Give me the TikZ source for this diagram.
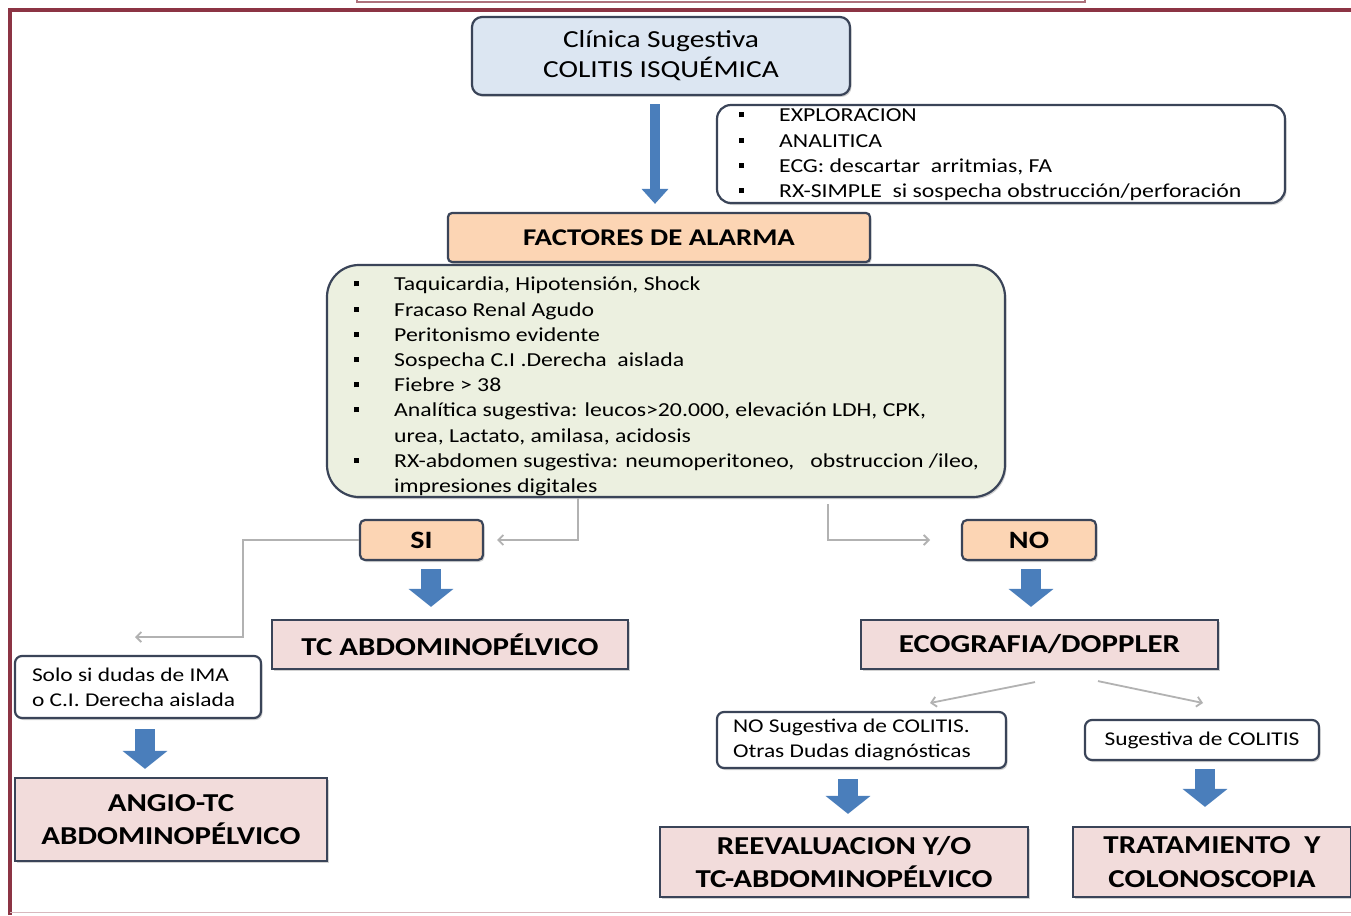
\documentclass[tikz,border=0pt]{standalone}
\usepackage{fontspec}
\setmainfont{Carlito}[FakeStretch=1.2]
\usetikzlibrary{arrows.meta,shadows}

\definecolor{edge}{RGB}{58,68,88}
\definecolor{clinfill}{RGB}{220,230,242}
\definecolor{peach}{RGB}{252,213,180}
\definecolor{rose}{RGB}{242,220,219}
\definecolor{sage}{RGB}{236,240,224}
\definecolor{arrowblue}{RGB}{74,126,187}
\definecolor{connector}{RGB}{178,178,178}
\definecolor{framered}{RGB}{140,52,68}

% one bullet line of a list, and its continuation line
\newcommand{\li}[1]{\strut\makebox[40pt][l]{\raisebox{0.22em}{\rule{5pt}{5pt}}}#1}
\newcommand{\lcont}[1]{\strut\hspace*{40pt}#1}

\tikzset{
  base/.style={draw=edge, line width=2.2pt, inner sep=0pt, align=center,
    drop shadow={shadow xshift=1.5pt, shadow yshift=-2pt, opacity=0.35}},
  clinbox/.style={base, fill=clinfill, rounded corners=10pt,
    font=\fontsize{24.5}{30}\selectfont},
  listbox/.style={base, fill=white, rounded corners=14pt},
  alarmbox/.style={base, fill=peach, rounded corners=4pt,
    font=\bfseries\fontsize{24}{28}\selectfont},
  answerbox/.style={base, fill=peach, rounded corners=5pt,
    font=\bfseries\fontsize{25}{28}\selectfont},
  testbox/.style={base, fill=rose, font=\bfseries\fontsize{25.8}{33.5}\selectfont},
  notebox/.style={base, fill=white, rounded corners=7pt,
    font=\fontsize{19.5}{25}\selectfont},
  listtext/.style={inner sep=0pt, align=left, anchor=north west,
    font=\fontsize{19.8}{25.2}\selectfont},
  bigarrow/.style={arrowblue, line width=20pt,
    -{Triangle[length=18pt,width=44pt]}},
  thinarrow/.style={arrowblue, line width=10pt,
    -{Triangle[length=15pt,width=26pt]}},
  link/.style={connector, line width=1.8pt,
    -{Straight Barb[length=5pt,width=10pt]}},
}

\begin{document}
\begin{tikzpicture}[x=1pt,y=-1pt]
\useasboundingbox (0,0) rectangle (1351,915);
\fill[white] (0,0) rectangle (1351,915);

% page frame
\draw[framered, line width=4pt] (10,915) -- (10,10) -- (1351,10);
\draw[framered!35, line width=1.5pt] (10,912.5) -- (1351,912.5);
\draw[framered!70, line width=2pt] (357,0) -- (357,2) -- (1085,2) -- (1085,0);

% boxes
\node[clinbox, minimum width=378pt, minimum height=78pt] (clin) at (661,56)
  {Clínica Sugestiva\\COLITIS ISQUÉMICA};
\node[listbox, minimum width=568pt, minimum height=98pt] (explo) at (1001,154) {};
\node[listtext] (explotext) at (739,104)
  {\li{EXPLORACION}\\\li{ANALITICA}\\\li{ECG: descartar\ \ arritmias, FA}\\
   \li{RX-SIMPLE\ \ si sospecha obstrucción/perforación}};

\node[alarmbox, minimum width=422pt, minimum height=49pt] (fact) at (659,237.5)
  {FACTORES DE ALARMA};
\node[listbox, fill=sage, rounded corners=32pt, minimum width=678pt,
  minimum height=232pt] (big) at (666,381) {};
\node[listtext] (bigtext) at (354,273)
  {\li{Taquicardia, Hipotensión, Shock}\\
   \li{Fracaso Renal Agudo}\\
   \li{Peritonismo evidente}\\
   \li{Sospecha C.I .Derecha\ \ aislada}\\
   \li{Fiebre > 38}\\
   \li{Analítica sugestiva: leucos>20.000, elevación LDH, CPK,}\\
   \lcont{urea, Lactato, amilasa, acidosis}\\
   \li{RX-abdomen sugestiva: neumoperitoneo,\ \ \ obstruccion /ileo,}\\
   \lcont{impresiones digitales}};

\node[answerbox, minimum width=123pt, minimum height=40pt] (si) at (421.5,540) {SI};
\node[answerbox, minimum width=134pt, minimum height=40pt] (no) at (1029,540) {NO};

\node[testbox, minimum width=356pt, minimum height=49pt] (tc) at (450,644.5)
  {TC ABDOMINOPÉLVICO};
\node[testbox, minimum width=357pt, minimum height=49pt] (eco) at (1039.5,644.5)
  {ECOGRAFIA/DOPPLER};

\node[notebox, minimum width=246pt, minimum height=62pt] (solo) at (138,687)
  {\makebox[212pt][l]{Solo si dudas de IMA}\\\makebox[212pt][l]{o C.I. Derecha aislada}};
\node[testbox, minimum width=312pt, minimum height=83pt] (angio) at (171,819.5)
  {ANGIO-TC\\ABDOMINOPÉLVICO};

\node[notebox, minimum width=289pt, minimum height=56pt] (nosug) at (861.5,740)
  {\makebox[257pt][l]{NO Sugestiva de COLITIS.}\\\makebox[257pt][l]{Otras Dudas diagnósticas}};
\node[notebox, minimum width=234pt, minimum height=40pt] (sug) at (1202,740)
  {Sugestiva de COLITIS};

\node[testbox, minimum width=368pt, minimum height=70pt] (reev) at (844,862)
  {REEVALUACION Y/O\\TC-ABDOMINOPÉLVICO};
\node[testbox, minimum width=278pt, minimum height=70pt] (trat) at (1212,862)
  {TRATAMIENTO\ \ Y\\COLONOSCOPIA};

% blue flow arrows
\draw[thinarrow] ([xshift=-6pt,yshift=-8pt]clin.south) -- ([xshift=-4pt,yshift=8pt]fact.north);
\draw[bigarrow] ([xshift=9.5pt,yshift=-8pt]si.south) -- ([xshift=-19pt,yshift=12pt]tc.north);
\draw[bigarrow] ([xshift=2pt,yshift=-8pt]no.south) -- ([xshift=-8.5pt,yshift=12pt]eco.north);
\draw[bigarrow] ([xshift=7pt,yshift=-10pt]solo.south) -- ([xshift=-26pt,yshift=8pt]angio.north);
\draw[bigarrow] ([xshift=-13.5pt,yshift=-10pt]nosug.south) -- ([xshift=4pt,yshift=12pt]reev.north);
\draw[bigarrow] ([xshift=3pt,yshift=-8pt]sug.south) -- ([xshift=-7pt,yshift=19pt]trat.north);

% grey decision links
\coordinate (siend) at (497,540);
\coordinate (noend) at (930,540);
\coordinate (soloend) at (135,637);
\coordinate (ecoleft) at (930,703);
\coordinate (ecoright) at (1203,703);
\draw[link] (big.south -| 578,0) |- (siend);
\draw[link] ([yshift=-6pt]big.south -| 828,0) |- (noend);
\draw[link] (si.west) -| (243,600) |- (soloend);
\draw[link] ([xshift=-4.5pt,yshift=-12pt]eco.south) -- (ecoleft);
\draw[link] ([xshift=58.5pt,yshift=-11pt]eco.south) -- (ecoright);
\end{tikzpicture}
\end{document}
